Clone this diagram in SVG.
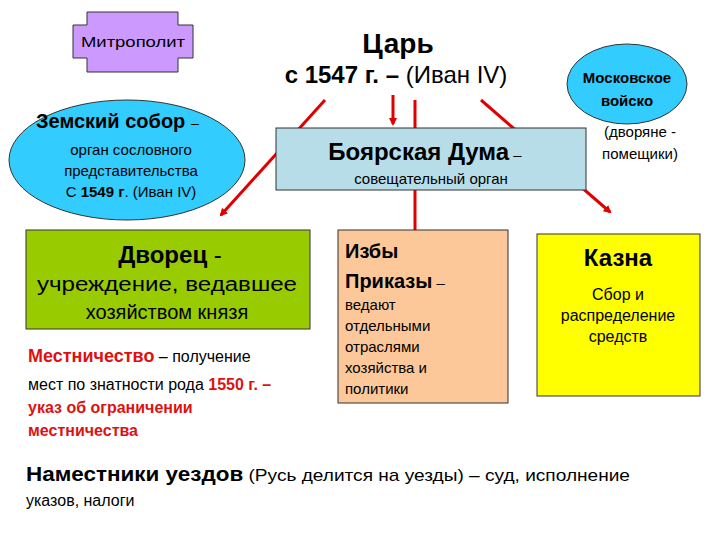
<svg xmlns="http://www.w3.org/2000/svg" width="720" height="540" viewBox="0 0 720 540">
<defs>
<style>
text{font-family:"Liberation Sans",Arial,sans-serif;fill:#000}
.b{font-weight:bold}
.r{fill:#e01010}
.box{stroke:#333;stroke-width:1}
.c{stroke:#e00000;stroke-width:3;fill:none}
</style>
<marker id="ah" markerWidth="8" markerHeight="8" refX="6" refY="4" orient="auto" markerUnits="userSpaceOnUse"><path d="M0,0 L8,4 L0,8 z" fill="#e00000"/></marker>
</defs>
<rect width="720" height="540" fill="#fff"/>
<g id="connectors">
<line class="c" x1="325" y1="100" x2="221" y2="215" marker-end="url(#ah)"/>
<line class="c" x1="393" y1="95" x2="393" y2="124" marker-end="url(#ah)"/>
<line class="c" x1="415" y1="100" x2="415" y2="240" marker-end="url(#ah)"/>
<line class="c" x1="481" y1="100" x2="610" y2="212" marker-end="url(#ah)"/>
</g>
<g id="metropolit">
<path class="box" fill="#cc99ff" d="M87,12 H178 V25 H193 V58 H178 V72 H87 V58 H73 V25 H87 Z"/>
<text x="133" y="47" font-size="15" text-anchor="middle" textLength="104" lengthAdjust="spacingAndGlyphs">Митрополит</text>
</g>
<g id="tsar">
<text x="398" y="53" font-size="28" class="b" text-anchor="middle">Царь</text>
<text x="396" y="83" font-size="24" text-anchor="middle"><tspan class="b">с 1547 г. –</tspan> (Иван IV)</text>
</g>
<g id="voisko">
<ellipse cx="627" cy="84" rx="60" ry="40" fill="#33ccff" stroke="#333"/>
<text x="627" y="83" font-size="15" text-anchor="middle" class="b">Московское</text>
<text x="627" y="106" font-size="15" text-anchor="middle" class="b">войско</text>
<text x="640" y="137" font-size="15" text-anchor="middle">(дворяне -</text>
<text x="640" y="159" font-size="15" text-anchor="middle">помещики)</text>
</g>
<g id="sobor">
<ellipse cx="127" cy="160" rx="118" ry="60" fill="#33ccff" stroke="#333"/>
<text x="36" y="128" font-size="20" class="b">Земский собор <tspan font-weight="normal" font-size="14">–</tspan></text>
<text x="131" y="155" font-size="15" text-anchor="middle">орган сословного</text>
<text x="131" y="176" font-size="15" text-anchor="middle">представительства</text>
<text x="131" y="197" font-size="15" text-anchor="middle">С <tspan class="b">1549 г</tspan>. (Иван IV)</text>
</g>
<g id="duma">
<rect class="box" x="276" y="128" width="310" height="62" fill="#b7dde8"/>
<text x="425" y="160" font-size="24" text-anchor="middle"><tspan class="b">Боярская Дума</tspan><tspan font-size="15"> –</tspan></text>
<text x="431" y="184" font-size="15" text-anchor="middle">совещательный орган</text>
</g>
<g id="dvorets">
<rect class="box" x="26" y="230" width="284" height="99" fill="#99cc00"/>
<text x="170" y="263" font-size="24" text-anchor="middle"><tspan class="b">Дворец</tspan> -</text>
<text x="167" y="291" font-size="20" text-anchor="middle" textLength="260" lengthAdjust="spacingAndGlyphs">учреждение, ведавшее</text>
<text x="167" y="319" font-size="20" text-anchor="middle">хозяйством князя</text>
</g>
<g id="mestnichestvo">
<text x="28" y="362" font-size="18"><tspan class="b r">Местничество</tspan><tspan font-size="16"> – получение</tspan></text>
<text x="28" y="390" font-size="16">мест по знатности рода <tspan class="b r">1550 г. –</tspan></text>
<text x="28" y="413" font-size="16" class="b r">указ об ограничении</text>
<text x="28" y="436" font-size="16" class="b r">местничества</text>
</g>
<g id="izby">
<rect class="box" x="338" y="230" width="170" height="173" fill="#fcc89a"/>
<text x="345" y="258" font-size="20" class="b">Избы</text>
<text x="345" y="288" font-size="20"><tspan class="b">Приказы</tspan><tspan font-size="15"> –</tspan></text>
<text x="345" y="310" font-size="15">ведают</text>
<text x="345" y="331" font-size="15">отдельными</text>
<text x="345" y="352" font-size="15">отраслями</text>
<text x="345" y="373" font-size="15">хозяйства и</text>
<text x="345" y="394" font-size="15">политики</text>
</g>
<g id="kazna">
<rect class="box" x="537" y="234" width="163" height="162" fill="#ffff00"/>
<text x="618" y="266" font-size="24" class="b" text-anchor="middle">Казна</text>
<text x="618" y="300" font-size="16" text-anchor="middle">Сбор и</text>
<text x="618" y="321" font-size="16" text-anchor="middle">распределение</text>
<text x="618" y="342" font-size="16" text-anchor="middle">средств</text>
</g>
<g id="namestniki">
<text x="26" y="481" font-size="20" textLength="604" lengthAdjust="spacingAndGlyphs"><tspan class="b">Наместники уездов</tspan><tspan font-size="17"> (Русь делится на уезды) – суд, исполнение</tspan></text>
<text x="26" y="506" font-size="16">указов, налоги</text>
</g>
</svg>
